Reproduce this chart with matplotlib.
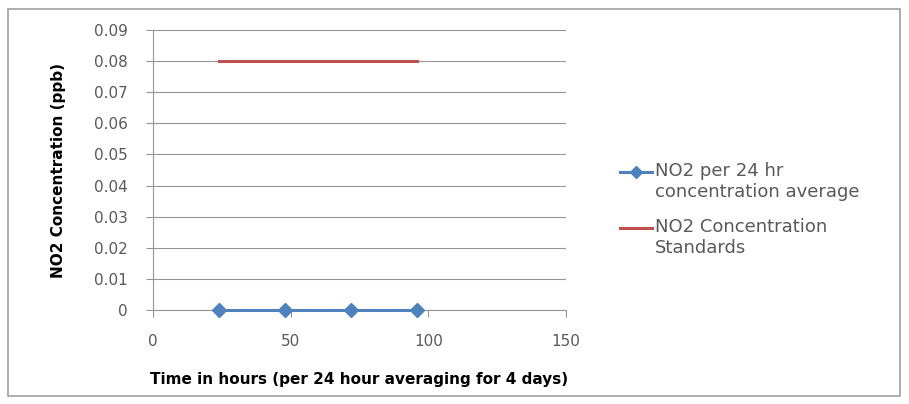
import numpy as np
import matplotlib.pyplot as plt
from matplotlib.patches import Rectangle
from matplotlib.lines import Line2D

# hours at which each 24 h average was taken
hours = [24, 48, 72, 96]
no2_avg = [0, 0, 0, 0]
std_hours = [24, 96]
no2_standard = [0.08, 0.08]

x_ticks = [0, 50, 100, 150]
y_ticks = [0, 0.01, 0.02, 0.03, 0.04, 0.05, 0.06, 0.07, 0.08, 0.09]

blue = '#4F81BD'
red = '#C0504D'
txt = '#595959'

plt.rcParams['font.family'] = ['DejaVu Sans']

W, H = 909, 404
fig = plt.figure(figsize=(W / 100, H / 100), dpi=100)
fig.patch.set_facecolor('white')

# outer chart frame
fig.add_artist(Rectangle((8 / W, 1 - 396 / H), 892 / W, 387 / H,
                         transform=fig.transFigure, fill=False,
                         edgecolor='#A0A0A0', linewidth=1.2))

ax = fig.add_axes([153 / W, 1 - 310 / H, (566 - 153) / W, (310 - 30) / H])
ax.set_xlim(0, 150)
ax.set_ylim(0, 0.09)
ax.set_xticks(x_ticks)
ax.set_yticks(y_ticks)
ax.set_xticklabels([str(t) for t in x_ticks])
ax.set_yticklabels(['0'] + ['%.2f' % t for t in y_ticks[1:]])

ax.grid(axis='y', color='#959595', linewidth=0.8)
ax.set_axisbelow(True)
for side in ['top', 'right']:
    ax.spines[side].set_visible(False)
for side in ['left', 'bottom']:
    ax.spines[side].set_color('#959595')
    ax.spines[side].set_linewidth(0.8)
ax.tick_params(axis='both', colors='#959595', length=5, width=0.8,
               labelcolor=txt, labelsize=11)
ax.tick_params(axis='y', pad=13)
ax.tick_params(axis='x', pad=12)

ax.plot(hours, no2_avg, color=blue, linewidth=2.2, marker='D',
        markersize=7, clip_on=False, zorder=3)
ax.plot(std_hours, no2_standard, color=red, linewidth=2.2, zorder=3)

ax.set_xlabel('Time in hours (per 24 hour averaging for 4 days)',
              fontsize=11, fontweight='bold', color='black', labelpad=17)
ax.set_ylabel('NO2 Concentration (ppb)', fontsize=11,
              fontweight='bold', color='black', labelpad=20)

# legend entries drawn by hand so the wrapped labels sit beside the keys
fig.add_artist(Line2D([620 / W, 652 / W], [1 - 172 / H] * 2, color=blue,
                      linewidth=2.2, transform=fig.transFigure))
fig.add_artist(Line2D([636 / W], [1 - 172 / H], color=blue, marker='D',
                      markersize=6, transform=fig.transFigure))
fig.text(655 / W, 1 - 162 / H, 'NO2 per 24 hr\nconcentration average',
         va='top', ha='left', fontsize=13, color=txt, linespacing=1.2)
fig.add_artist(Line2D([620 / W, 652 / W], [1 - 228 / H] * 2, color=red,
                      linewidth=2.2, transform=fig.transFigure))
fig.text(655 / W, 1 - 218 / H, 'NO2 Concentration\nStandards',
         va='top', ha='left', fontsize=13, color=txt, linespacing=1.2)

fig.savefig('out.png', dpi=100)
